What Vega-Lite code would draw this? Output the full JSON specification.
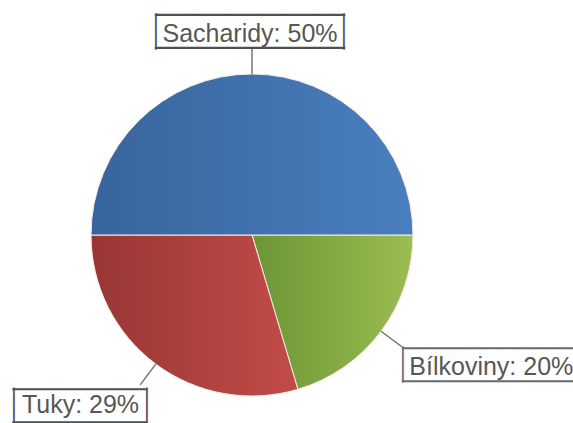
{
  "$schema": "https://vega.github.io/schema/vega-lite/v6.json",
  "width": 504,
  "height": 376,
  "autosize": {"type": "none"},
  "padding": {"left": 0, "top": 47, "right": 69, "bottom": 0},
  "background": "#ffffff",
  "view": {"stroke": null},
  "data": {
    "values": [
      {"kategorie": "Bílkoviny", "podil": 20.4, "popisek": "Bílkoviny: 20%", "poradi": 1},
      {"kategorie": "Tuky", "podil": 29.6, "popisek": "Tuky: 29%", "poradi": 2},
      {"kategorie": "Sacharidy", "podil": 50, "popisek": "Sacharidy: 50%", "poradi": 3}
    ]
  },
  "encoding": {
    "theta": {"field": "podil", "type": "quantitative", "stack": true, "scale": {"range": [1.5707963, 7.8539816]}},
    "order": {"field": "poradi", "type": "quantitative"}
  },
  "layer": [
    {
      "mark": {"type": "arc", "outerRadius": 161, "stroke": "#f4eee8", "strokeWidth": 1},
      "encoding": {
        "fill": {
          "condition": [
            {"test": "datum.kategorie === 'Sacharidy'", "value": {"gradient": "linear", "x1": 0, "y1": 0, "x2": 1, "y2": 0, "stops": [{"offset": 0, "color": "#38649c"}, {"offset": 1, "color": "#4a7fbf"}]}},
            {"test": "datum.kategorie === 'Tuky'", "value": {"gradient": "linear", "x1": 0, "y1": 0, "x2": 1, "y2": 0, "stops": [{"offset": 0, "color": "#983634"}, {"offset": 1, "color": "#c24c49"}]}}
          ],
          "value": {"gradient": "linear", "x1": 0, "y1": 0, "x2": 1, "y2": 0, "stops": [{"offset": 0, "color": "#6d9535"}, {"offset": 1, "color": "#9bbd52"}]}
        }
      }
    },
    {
      "mark": {"type": "arc", "innerRadius": 161, "outerRadius": 187, "padAngle": 3, "fillOpacity": 0, "stroke": "#6a6e72", "strokeWidth": 1.4}
    },
    {
      "mark": {"type": "text", "radius": 187, "font": "DejaVu Sans Mono", "fontSize": 24.28, "lineHeight": 33, "align": "center", "baseline": "alphabetic", "fill": "#4a5259", "dx": -2, "dy": -24.6},
      "encoding": {"text": {"condition": {"test": "datum.kategorie === 'Sacharidy'", "value": ["─────────────", "─────────────"]}, "value": ""}}
    },
    {
      "mark": {"type": "text", "radius": 187, "font": "DejaVu Sans Mono", "fontSize": 20, "lineHeight": 188, "angle": 90, "align": "center", "baseline": "alphabetic", "fill": "#4a5259", "dx": -16.5, "dy": -85.1},
      "encoding": {"text": {"condition": {"test": "datum.kategorie === 'Sacharidy'", "value": ["───", "───"]}, "value": ""}}
    },
    {
      "mark": {"type": "text", "radius": 187, "font": "Liberation Sans", "fontSize": 25, "align": "center", "baseline": "alphabetic", "fill": "#575757", "dx": -2, "dy": -6.3},
      "encoding": {"text": {"condition": {"test": "datum.kategorie === 'Sacharidy'", "field": "popisek", "type": "nominal"}, "value": ""}}
    },
    {
      "mark": {"type": "text", "radius": 187, "font": "DejaVu Sans Mono", "fontSize": 24.78, "lineHeight": 33, "align": "center", "baseline": "alphabetic", "fill": "#6a6e72", "dx": 89.6, "dy": 9.8},
      "encoding": {"text": {"condition": {"test": "datum.kategorie === 'Bílkoviny'", "value": ["────────────", "────────────"]}, "value": ""}}
    },
    {
      "mark": {"type": "text", "radius": 187, "font": "DejaVu Sans Mono", "fontSize": 20, "lineHeight": 177, "angle": 90, "align": "center", "baseline": "alphabetic", "fill": "#6a6e72", "dx": 17.7, "dy": -171.2},
      "encoding": {"text": {"condition": {"test": "datum.kategorie === 'Bílkoviny'", "value": ["───", "───"]}, "value": ""}}
    },
    {
      "mark": {"type": "text", "radius": 187, "font": "Liberation Sans", "fontSize": 25, "align": "center", "baseline": "alphabetic", "fill": "#575757", "dx": 89.4, "dy": 28.2},
      "encoding": {"text": {"condition": {"test": "datum.kategorie === 'Bílkoviny'", "field": "popisek", "type": "nominal"}, "value": ""}}
    },
    {
      "mark": {"type": "text", "radius": 187, "font": "DejaVu Sans Mono", "fontSize": 24.92, "lineHeight": 33, "align": "center", "baseline": "alphabetic", "fill": "#4f5458", "dx": -60.2, "dy": 13.1},
      "encoding": {"text": {"condition": {"test": "datum.kategorie === 'Tuky'", "value": ["─────────", "─────────"]}, "value": ""}}
    },
    {
      "mark": {"type": "text", "radius": 187, "font": "DejaVu Sans Mono", "fontSize": 20, "lineHeight": 133, "angle": 90, "align": "center", "baseline": "alphabetic", "fill": "#4f5458", "dx": 21, "dy": 0.6},
      "encoding": {"text": {"condition": {"test": "datum.kategorie === 'Tuky'", "value": ["───", "───"]}, "value": ""}}
    },
    {
      "mark": {"type": "text", "radius": 187, "font": "Liberation Sans", "fontSize": 25, "align": "center", "baseline": "alphabetic", "fill": "#575757", "dx": -59.7, "dy": 28.5},
      "encoding": {"text": {"condition": {"test": "datum.kategorie === 'Tuky'", "field": "popisek", "type": "nominal"}, "value": ""}}
    }
  ]
}
